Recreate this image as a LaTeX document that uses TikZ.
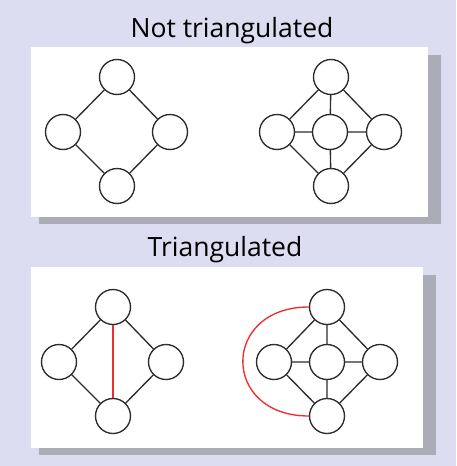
\documentclass[tikz,border=0pt]{standalone}
\usepackage{fontspec}
\newfontfamily\titlefont{Open Sans}
\definecolor{bgcol}{RGB}{221,221,242}
\definecolor{shadowcol}{RGB}{172,172,184}
\definecolor{linecol}{RGB}{45,45,45}
\definecolor{addcol}{RGB}{238,45,45}
\begin{document}
\begin{tikzpicture}[x=1pt,y=-1pt,
    vert/.style={circle,draw=linecol,line width=1.35pt,minimum size=35pt,inner sep=0pt},
    edge/.style={draw=linecol,line width=1.35pt},
    added/.style={draw=addcol,line width=1.35pt},
    title/.style={font=\titlefont\fontsize{26.5}{30}\selectfont,anchor=base}]
  \fill[bgcol] (0,0) rectangle (456,466);
  \useasboundingbox (0,0) rectangle (456,466);
  % top panel
  \fill[shadowcol] (39,55) rectangle (441,224);
  \fill[white] (31,47) rectangle (428,217);
  \node[title] (nt) at (232,37) {Not triangulated};
  \node[vert] (at) at (117,77) {};
  \node[vert] (al) at (63,132) {};
  \node[vert] (ar) at (170,132) {};
  \node[vert] (ab) at (117,186) {};
  \draw[edge] (at) -- (al) (at) -- (ar) (al) -- (ab) (ar) -- (ab);
  \node[vert] (bt) at (331,77) {};
  \node[vert] (bl) at (277,132) {};
  \node[vert] (bm) at (330,132) {};
  \node[vert] (br) at (384,132) {};
  \node[vert] (bb) at (331,186) {};
  \draw[edge] (bt) -- (bl) (bt) -- (br) (bt) -- (bm) (bl) -- (bm)
    (bm) -- (br) (bm) -- (bb) (bl) -- (bb) (br) -- (bb);
  % bottom panel
  \fill[shadowcol] (39,275) rectangle (436,455);
  \fill[white] (31,267) rectangle (423,448);
  \node[title] (tr) at (225,256) {Triangulated};
  \node[vert] (ct) at (113,307) {};
  \node[vert] (cl) at (59,362) {};
  \node[vert] (cr) at (166,362) {};
  \node[vert] (cb) at (113,416) {};
  \draw[edge] (ct) -- (cl) (ct) -- (cr) (cl) -- (cb) (cr) -- (cb);
  \draw[added] (ct) -- (cb);
  \node[vert] (dt) at (327,307) {};
  \node[vert] (dl) at (274,362) {};
  \node[vert] (dm) at (327,362) {};
  \node[vert] (dr) at (380,362) {};
  \node[vert] (db) at (327,416) {};
  \draw[edge] (dt) -- (dl) (dt) -- (dr) (dt) -- (dm) (dl) -- (dm)
    (dm) -- (dr) (dm) -- (db) (dl) -- (db) (dr) -- (db);
  \draw[added] (dt.west) .. controls +(-88,0) and +(-88,0) .. (db.west);
\end{tikzpicture}
\end{document}
